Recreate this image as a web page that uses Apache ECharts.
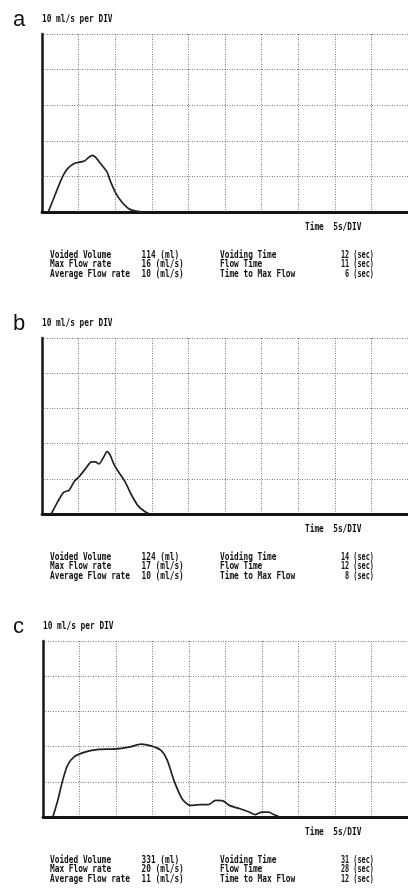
<!DOCTYPE html>
<html lang="en">
<head>
    <meta charset="UTF-8">
    <title>Uroflowmetry</title>
    <script src="https://cdn.jsdelivr.net/npm/echarts@6/dist/echarts.min.js"></script>
    <style>
        body{
            margin: 0;
            background: #fff;
        }
        #box{
            width: 408px;
            height: 894px;
        }
    </style>
</head>
<body>
<div id="box"></div>
<script>
    // panel letters
    var panelNames = ['a', 'b', 'c'];

    // flow curves: time (s) / flow (ml/s)
    var timeA = [0.85, 1.5, 2.2, 2.9, 3.5, 4.4, 5.1, 5.8, 6.3, 6.9, 7.3, 8.0, 8.9, 9.3, 10.0, 10.9, 11.8, 12.7, 13.8];
    var flowA = [0, 3.3, 7.0, 10.3, 12.2, 13.6, 14.0, 14.3, 15.2, 15.9, 15.4, 13.6, 11.2, 8.9, 5.6, 2.8, 1.0, 0.3, 0];

    var timeB = [1.26, 2.15, 2.92, 3.72, 4.4, 5.07, 5.96, 6.77, 7.31, 7.76, 8.43, 8.87, 9.32, 9.77, 10.44, 11.34, 12.23, 13.13, 14.03, 14.7];
    var flowB = [0, 3.5, 6.1, 6.8, 9.2, 10.6, 12.9, 14.8, 14.8, 14.2, 16.2, 17.7, 16.7, 14.4, 12.0, 9.2, 5.4, 2.3, 0.7, 0];

    var timeC = [1.35, 2.02, 2.69, 3.36, 4.26, 5.83, 7.62, 9.41, 10.76, 12.1, 13.44, 14.79, 16.13, 17.03, 17.93, 19.05, 20.16, 21.5, 22.6, 23.66, 24.65, 25.54, 26.88, 28.23, 29.1, 30.0, 30.9, 31.6, 32.26];
    var flowC = [0, 4.7, 10.4, 14.7, 17.1, 18.5, 19.2, 19.3, 19.5, 20.0, 20.7, 20.2, 19.0, 16.1, 10.4, 5.2, 3.3, 3.5, 3.5, 4.7, 4.6, 3.3, 2.4, 1.4, 0.7, 1.4, 1.4, 0.7, 0.2];

    // axis scale: 5 s per DIV, 10 ml/s per DIV
    var xMax = 50, xStep = 5;
    var yMax = 50, yStep = 10;
    var yUnitText = '10 ml/s per DIV';
    var xUnitText = 'Time  5s/DIV';

    // printed results under each trace
    var leftLabels = ['Voided Volume', 'Max Flow rate', 'Average Flow rate'];
    var rightLabels = ['Voiding Time', 'Flow Time', 'Time to Max Flow'];
    var voidedVolume = [114, 124, 331];
    var maxFlow = [16, 17, 20];
    var avgFlow = [10, 10, 11];
    var voidingTime = [12, 14, 31];
    var flowTime = [11, 12, 28];
    var timeToMax = [6, 8, 12];

    var times = [timeA, timeB, timeC];
    var flows = [flowA, flowB, flowC];

    var grids = [
        {left: 42, top: 34, width: 373, height: 178},
        {left: 42, top: 338, width: 373, height: 176},
        {left: 43, top: 641, width: 373, height: 176}
    ];

    var printFont = {fontFamily: '"DejaVu Sans Mono", monospace', fontWeight: 'bold', fontSize: 11};

    function pad(n){
        return (n < 10 ? ' ' : '') + n;
    }

    function printText(x, y, str, sx){
        return {
            type: 'text',
            x: x,
            y: y,
            scaleX: sx || 0.71,
            silent: true,
            style: {
                text: str,
                fill: '#111',
                fontFamily: printFont.fontFamily,
                fontWeight: printFont.fontWeight,
                fontSize: printFont.fontSize,
                align: 'left',
                verticalAlign: 'middle'
            }
        };
    }

    var xAxes = [], yAxes = [], series = [], graphics = [];
    for (var i = 0; i < 3; i++) {
        var g = grids[i];
        var bottom = g.top + g.height;
        xAxes.push({
            gridIndex: i,
            type: 'value',
            min: 0,
            max: xMax,
            interval: xStep,
            axisLine: {lineStyle: {color: '#151515', width: 2.8}},
            axisTick: {show: false},
            axisLabel: {show: false},
            splitLine: {show: true, lineStyle: {color: '#7a7a7a', type: [1, 1.5], width: 1}}
        });
        yAxes.push({
            gridIndex: i,
            type: 'value',
            min: 0,
            max: yMax,
            interval: yStep,
            axisLine: {show: true, lineStyle: {color: '#151515', width: 2.5}},
            axisTick: {show: false},
            axisLabel: {show: false},
            splitLine: {show: true, lineStyle: {color: '#7a7a7a', type: [1, 1.5], width: 1}}
        });
        var pts = [];
        for (var k = 0; k < times[i].length; k++) {
            pts.push([times[i][k], flows[i][k]]);
        }
        series.push({
            type: 'line',
            xAxisIndex: i,
            yAxisIndex: i,
            data: pts,
            smooth: 0.25,
            showSymbol: false,
            lineStyle: {color: '#222', width: 1.7},
            z: 5
        });

        // letter + header
        graphics.push({
            type: 'text',
            x: 13,
            y: g.top - 14,
            silent: true,
            style: {text: panelNames[i], fill: '#111', fontFamily: '"Liberation Sans", Arial, sans-serif', fontSize: 22, verticalAlign: 'middle'}
        });
        graphics.push(printText(g.left, g.top - 15, yUnitText));
        graphics.push(printText(305, bottom + 15, xUnitText));

        // result table
        var rows = [bottom + 43, bottom + 52.5, bottom + 62];
        var leftVals = [voidedVolume[i] + ' (ml)', pad(maxFlow[i]) + ' (ml/s)', pad(avgFlow[i]) + ' (ml/s)'];
        var rightVals = [pad(voidingTime[i]) + ' (sec)', pad(flowTime[i]) + ' (sec)', pad(timeToMax[i]) + ' (sec)'];
        for (var r = 0; r < 3; r++) {
            graphics.push(printText(50, rows[r], leftLabels[r]));
            graphics.push(printText(141.5, rows[r], leftVals[r]));
            graphics.push(printText(220, rows[r], rightLabels[r]));
            graphics.push(printText(341, rows[r], rightVals[r], 0.62));
        }
    }

    var MyChart = echarts.init(document.getElementById('box'));
    var option = {
        backgroundColor: '#fff',
        animation: false,
        grid: grids,
        xAxis: xAxes,
        yAxis: yAxes,
        series: series,
        graphic: graphics
    };
    MyChart.setOption(option);
</script>
</body>
</html>
